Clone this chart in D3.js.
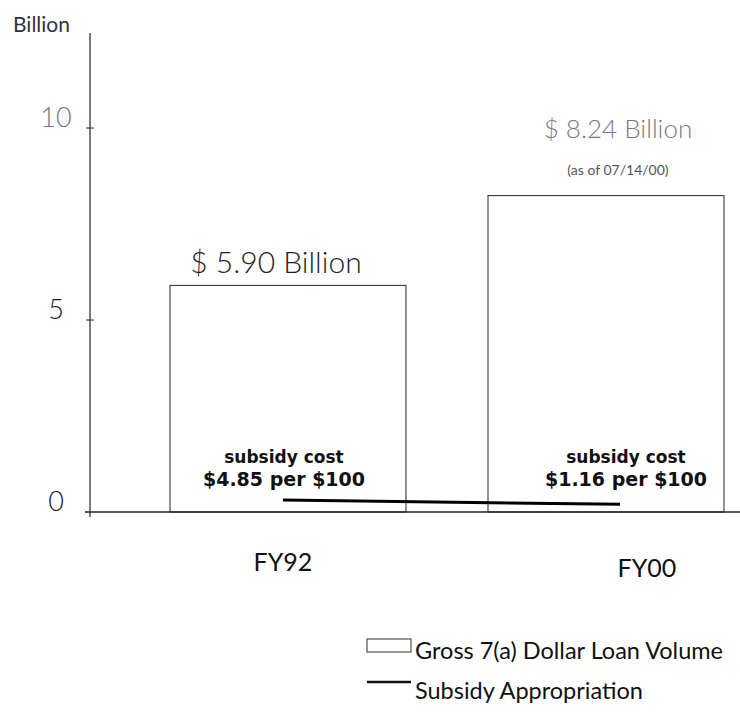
<!DOCTYPE html>
<html>
<head>
<meta charset="utf-8">
<script src="https://cdn.jsdelivr.net/npm/d3@7"></script>
<style>
  body { margin: 0; background: #fff; }
  svg { display: block; font-family: "Lato", "DejaVu Sans", sans-serif; }
</style>
</head>
<body>
<svg id="chart" width="740" height="713" viewBox="0 0 740 713"></svg>
<script>
// data
var years = ["FY92", "FY00"];
var loanVolume = [5.90, 8.24];          // billions
var subsidyApprop = [0.31, 0.20];       // billions (line)
var valueLabels = ["$ 5.90 Billion", "$ 8.24 Billion"];
var subsidyRates = ["$4.85 per $100", "$1.16 per $100"];
var yTicks = [0, 5, 10];

var svg = d3.select("#chart");
var axisX = 90,
    baseY = 512,
    topY = 33;

var yScale = d3.scaleLinear()
    .domain([0, 10])
    .range([baseY, 128]);

var xScale = d3.scaleBand()
    .domain(years)
    .range([axisX, 740])
    .paddingInner(0.258)
    .paddingOuter(0.151)
    .align(0.833);

function mid(cat) {
    return xScale(cat) + xScale.bandwidth() / 2;
}

// axis label
svg.append("text")
    .attr("x", 13).attr("y", 32)
    .attr("font-size", 21)
    .attr("fill", "#333")
    .text("Billion");

// bars
svg.selectAll("rect.bar")
    .data(loanVolume)
    .enter().append("rect")
    .attr("class", "bar")
    .attr("x", function (d, i) { return xScale(years[i]); })
    .attr("y", function (d) { return yScale(d); })
    .attr("width", xScale.bandwidth())
    .attr("height", function (d) { return baseY - yScale(d); })
    .attr("fill", "#fff")
    .attr("stroke", "#3a3a3a")
    .attr("stroke-width", 1.1);

// y axis line + base line
svg.append("line")
    .attr("x1", axisX).attr("x2", axisX)
    .attr("y1", topY).attr("y2", baseY + 5)
    .attr("stroke", "#222").attr("stroke-width", 1.2);
svg.append("line")
    .attr("x1", axisX - 5).attr("x2", 740)
    .attr("y1", baseY).attr("y2", baseY)
    .attr("stroke", "#222").attr("stroke-width", 1.5);

var ticks = svg.selectAll("g.tick")
    .data(yTicks)
    .enter().append("g")
    .attr("class", "tick")
    .attr("transform", function (d) { return "translate(0," + yScale(d) + ")"; });
ticks.filter(function (d) { return d != 0; })
    .append("line")
    .attr("x1", axisX - 4).attr("x2", axisX + 4)
    .attr("stroke", "#222");
ticks.append("text")
    .attr("x", 56).attr("y", -1)
    .attr("text-anchor", "middle")
    .attr("font-size", 27)
    .attr("font-weight", 300)
    .attr("fill", function (d) { return d == 10 ? "#777" : "#1a1a1a"; })
    .text(function (d) { return d; });

// value labels above bars
var labelDx = [-12, 12];
var labelSize = [30, 26];
svg.selectAll("text.val")
    .data(loanVolume)
    .enter().append("text")
    .attr("class", "val")
    .attr("x", function (d, i) { return mid(years[i]) + labelDx[i]; })
    .attr("y", function (d, i) { return i == 0 ? yScale(d) - 12 : yScale(d) - 58; })
    .attr("text-anchor", "middle")
    .attr("font-size", function (d, i) { return labelSize[i]; })
    .attr("font-weight", 300)
    .attr("fill", function (d, i) { return i == 0 ? "#222" : "#7a7a7a"; })
    .text(function (d, i) { return valueLabels[i]; });

svg.append("text")
    .attr("x", mid("FY00") + 12)
    .attr("y", yScale(loanVolume[1]) - 21)
    .attr("text-anchor", "middle")
    .attr("font-size", 14)
    .attr("fill", "#555")
    .text("(as of 07/14/00)");

// subsidy cost notes
var noteDx = [-4, 20];
var notes = svg.selectAll("g.note")
    .data(subsidyRates)
    .enter().append("g")
    .attr("class", "note")
    .attr("transform", function (d, i) {
        return "translate(" + (mid(years[i]) + noteDx[i]) + ",0)";
    });
notes.append("text")
    .attr("y", 463)
    .attr("text-anchor", "middle")
    .attr("font-family", "'DejaVu Sans', sans-serif")
    .attr("font-size", 17)
    .attr("font-weight", "bold")
    .attr("fill", "#111")
    .text("subsidy cost");
notes.append("text")
    .attr("y", 486)
    .attr("text-anchor", "middle")
    .attr("font-family", "'DejaVu Sans', sans-serif")
    .attr("font-size", 19)
    .attr("font-weight", "bold")
    .attr("fill", "#111")
    .text(function (d) { return d; });

// subsidy appropriation line
var lineDx = [-5, 14];
var subsidyLine = d3.line()
    .x(function (d, i) { return mid(years[i]) + lineDx[i]; })
    .y(function (d) { return yScale(d); });
svg.append("path")
    .attr("d", subsidyLine(subsidyApprop))
    .attr("fill", "none")
    .attr("stroke", "#000")
    .attr("stroke-width", 3);

// x category labels
var catDx = [-5, 41];
svg.selectAll("text.cat")
    .data(years)
    .enter().append("text")
    .attr("class", "cat")
    .attr("x", function (d, i) { return mid(d) + catDx[i]; })
    .attr("y", function (d, i) { return i == 0 ? 571 : 577; })
    .attr("text-anchor", "middle")
    .attr("font-size", 25)
    .attr("fill", "#111")
    .text(function (d) { return d; });

// legend
var legend = svg.append("g").attr("transform", "translate(367,0)");
legend.append("rect")
    .attr("x", 0).attr("y", 639)
    .attr("width", 44).attr("height", 13)
    .attr("fill", "#fff").attr("stroke", "#444").attr("stroke-width", 1.1);
legend.append("text")
    .attr("x", 48).attr("y", 659)
    .attr("font-size", 23.5)
    .attr("fill", "#111")
    .text("Gross 7(a) Dollar Loan Volume");
legend.append("line")
    .attr("x1", 0).attr("x2", 44)
    .attr("y1", 682).attr("y2", 682)
    .attr("stroke", "#111").attr("stroke-width", 2.5);
legend.append("text")
    .attr("x", 48).attr("y", 699)
    .attr("font-size", 23.5)
    .attr("fill", "#111")
    .text("Subsidy Appropriation");
</script>
</body>
</html>
